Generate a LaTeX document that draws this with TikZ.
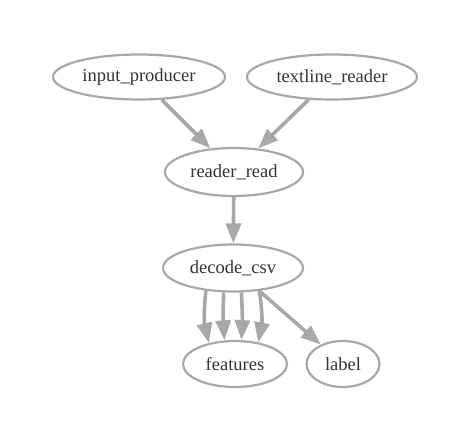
\documentclass[tikz,border=0pt]{standalone}
\usepackage{fontspec}
\setmainfont{Liberation Serif}
\usetikzlibrary{shapes.geometric,arrows.meta}
\definecolor{edgegray}{HTML}{A8A8A8}
\definecolor{textgray}{HTML}{333333}
\tikzset{
  op/.style={ellipse,draw=edgegray,line width=2.2pt,inner sep=0pt,
    text=textgray,font=\fontsize{18.5}{20}\selectfont},
  flow/.style={draw=edgegray,line width=3.6pt,
    -{Triangle[length=20pt,width=15pt,fill=edgegray]}}
}
\begin{document}
\begin{tikzpicture}[x=1pt,y=1pt]
      \useasboundingbox (0,0) rectangle (468,442);
      \node[op,minimum width=172,minimum height=45] (inprod) at (139,365) {input\_producer};
      \node[op,minimum width=170,minimum height=45] (txtread) at (332,365) {textline\_reader};
      \node[op,minimum width=138,minimum height=48] (rdread) at (234,270) {reader\_read};
      \node[op,minimum width=140,minimum height=47] (decode) at (233,174) {decode\_csv};
      \node[op,minimum width=104,minimum height=46] (feat) at (235,78) {features};
      \node[op,minimum width=73,minimum height=46] (lbl) at (343,78) {label};
      \draw[flow] (inprod) -- (rdread);
      \draw[flow] (txtread) -- (rdread);
      \draw[flow] (rdread) -- (decode);
      \draw[flow] (decode.220) to[bend right=10] (feat.141);
      \draw[flow] (decode.249) to[bend right=3] (feat.114);
      \draw[flow] (decode.289) to[bend left=3] (feat.75);
      \draw[flow] (decode.319) to[bend left=10] (feat.43);
      \draw[flow] (decode) -- (lbl);
    \end{tikzpicture}
\end{document}
